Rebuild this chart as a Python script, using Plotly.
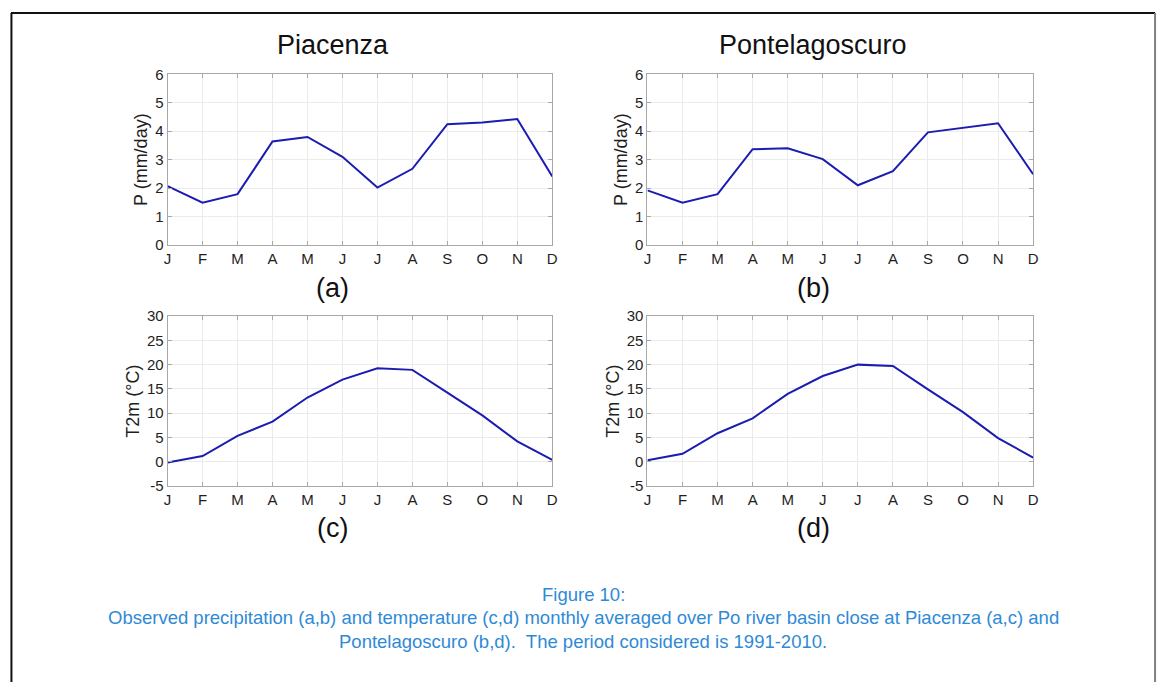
import plotly.graph_objects as go

months = ["J", "F", "M", "A", "M", "J", "J", "A", "S", "O", "N", "D"]
month_idx = list(range(1, 13))

# Monthly mean precipitation (mm/day)
precip_piacenza = [2.07, 1.49, 1.79, 3.64, 3.80, 3.10, 2.02, 2.68, 4.25, 4.31, 4.43, 2.41]
precip_pontelagoscuro = [1.92, 1.49, 1.79, 3.37, 3.40, 3.02, 2.10, 2.60, 3.96, 4.13, 4.28, 2.49]

# Monthly mean 2 m temperature (°C)
t2m_piacenza = [-0.17, 1.17, 5.33, 8.28, 13.24, 16.93, 19.28, 18.94, 14.25, 9.55, 4.19, 0.36]
t2m_pontelagoscuro = [0.30, 1.64, 5.87, 8.95, 13.98, 17.67, 20.02, 19.75, 14.92, 10.23, 4.86, 0.84]

p_ticks = [0, 1, 2, 3, 4, 5, 6]
p_ticklabels = ["0", "1", "2", "3", "4", "5", "6"]
t_ticks = [-5, 0, 5, 10, 15, 20, 25, 30]
t_ticklabels = ["-5", "0", "5", "10", "15", "20", "25", "30"]

stations = ["Piacenza", "Pontelagoscuro"]
panel_labels = ["(a)", "(b)", "(c)", "(d)"]
caption_lines = [
    "Figure 10:",
    "Observed precipitation (a,b) and temperature (c,d) monthly averaged over Po river basin close at Piacenza (a,c) and",
    "Pontelagoscuro (b,d).  The period considered is 1991-2010.",
]

W, H = 1169, 690
LINE = "#1c1cb0"
FONT = "Liberation Sans, Arial, sans-serif"
INK = "#1e1e1e"


def px(x):
    return x / W


def py(y):
    return 1 - y / H


fig = go.Figure()

# Plot areas in pixels (left, right, top, bottom)
boxes = {
    "a": (165, 553, 67, 242),
    "b": (649, 1038, 67, 242),
    "c": (165, 553, 315, 489),
    "d": (649, 1038, 315, 489),
}

series = [
    ("a", precip_piacenza, [0, 6], p_ticks, p_ticklabels, "P (mm/day)"),
    ("b", precip_pontelagoscuro, [0, 6], p_ticks, p_ticklabels, "P (mm/day)"),
    ("c", t2m_piacenza, [-5, 30], t_ticks, t_ticklabels, "T2m (°C)"),
    ("d", t2m_pontelagoscuro, [-5, 30], t_ticks, t_ticklabels, "T2m (°C)"),
]

for i, (key, vals, yr, tv, tt, ytitle) in enumerate(series, start=1):
    l, r, t, b = boxes[key]
    sx = "" if i == 1 else str(i)
    fig.add_trace(go.Scatter(
        x=month_idx, y=vals, mode="lines",
        line=dict(color=LINE, width=2),
        xaxis="x" + sx, yaxis="y" + sx, showlegend=False,
    ))
    axis_common = dict(
        showline=True, linecolor="#a8a8a8", linewidth=1, mirror="ticks",
        ticks="inside", ticklen=4, tickcolor="#a8a8a8",
        showgrid=True, gridcolor="#ebebeb", gridwidth=1,
        zeroline=False,
        tickfont=dict(family=FONT, size=15, color=INK),
    )
    fig.update_layout(**{
        "xaxis" + sx: dict(
            domain=[px(l), px(r)], anchor="y" + sx, range=[1, 12],
            tickmode="array", tickvals=month_idx, ticktext=months,
            **axis_common,
        ),
        "yaxis" + sx: dict(
            domain=[py(b), py(t)], anchor="x" + sx, range=yr,
            tickmode="array", tickvals=tv, ticktext=tt,
            title=dict(text=ytitle, font=dict(family=FONT, size=18, color=INK), standoff=2),
            **axis_common,
        ),
    })

annotations = []
# Station titles
for name, xpx in zip(stations, [332, 816]):
    annotations.append(dict(
        text=name, x=px(xpx), y=py(37), xref="paper", yref="paper",
        showarrow=False, font=dict(family=FONT, size=27, color="#111111"),
        xanchor="center", yanchor="middle",
    ))
# Panel letters
for lab, xpx, ypx in zip(panel_labels, [331, 816, 331, 816], [286, 286, 532, 532]):
    annotations.append(dict(
        text=lab, x=px(xpx), y=py(ypx), xref="paper", yref="paper",
        showarrow=False, font=dict(family=FONT, size=27, color="#111111"),
        xanchor="center", yanchor="middle",
    ))
# Caption
for line, ypx in zip(caption_lines, [600, 624, 648]):
    annotations.append(dict(
        text=line, x=px(584), y=py(ypx), xref="paper", yref="paper",
        showarrow=False, font=dict(family=FONT, size=18.5, color="#2f8ad6"),
        xanchor="center", yanchor="middle",
    ))

# Page frame
shapes = [
    dict(type="line", xref="paper", yref="paper", x0=px(7.5), x1=px(7.5), y0=0, y1=py(4),
         line=dict(color="#111111", width=2)),
    dict(type="line", xref="paper", yref="paper", x0=px(7), x1=px(1161), y0=py(4), y1=py(4),
         line=dict(color="#111111", width=2)),
    dict(type="line", xref="paper", yref="paper", x0=px(1161), x1=px(1161), y0=0, y1=py(4),
         line=dict(color="#808080", width=2)),
]

fig.update_layout(
    width=W, height=H, margin=dict(l=0, r=0, t=0, b=0),
    paper_bgcolor="white", plot_bgcolor="white",
    annotations=annotations, shapes=shapes,
)

fig.write_html("out.html")
